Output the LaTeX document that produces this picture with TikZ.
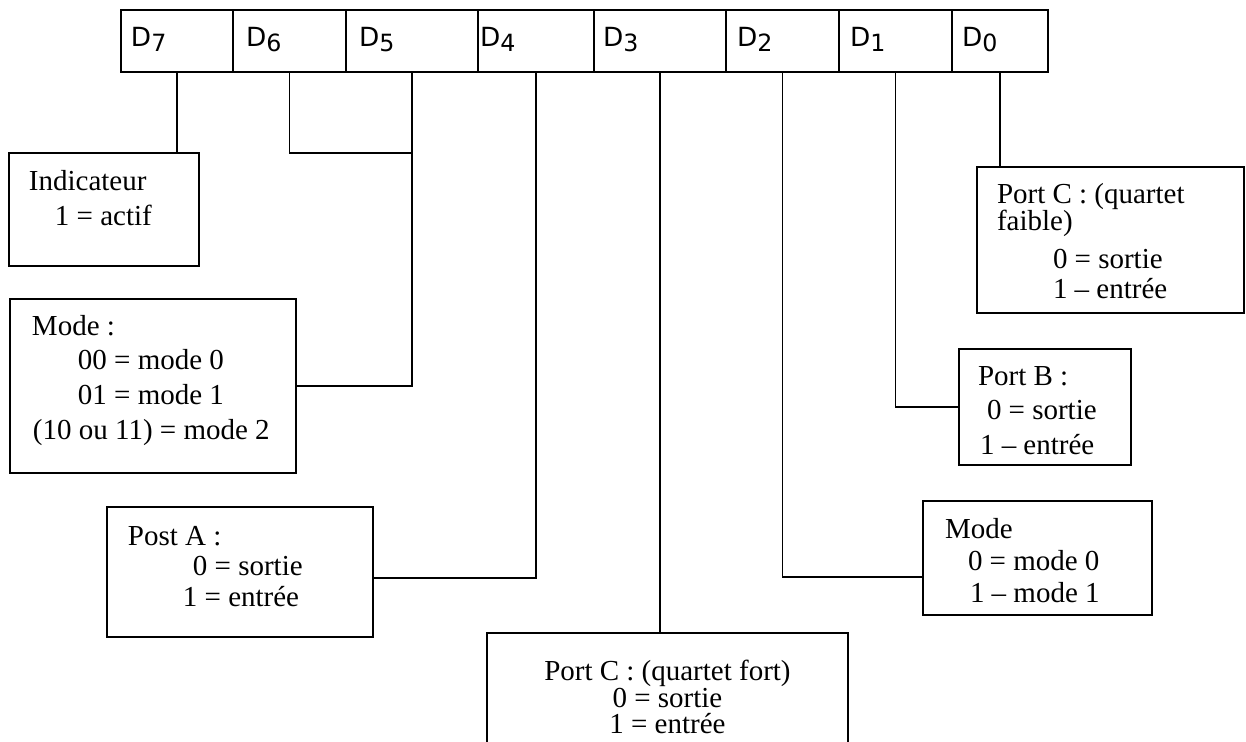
\documentclass[tikz,border=0pt]{standalone}
\usepackage{fontspec}
\setmainfont{Liberation Serif}
\newfontfamily\bitfont{DejaVu Sans}
\usepackage{tikz}
\usetikzlibrary{positioning}

% text of a box: width, height, line skip, lines
\newcommand{\boxtxt}[4]{\begin{minipage}[c][#2][t]{#1}\fontsize{16.5pt}{#3}\selectfont#4\end{minipage}}
% one bit of the control word: width, left pad, digit
\newcommand{\regcell}[3]{\begin{minipage}[c][1.24cm][t]{#1}\bitfont\fontsize{15pt}{18pt}\selectfont\rule{0pt}{0.74cm}\hspace*{#2}D\raisebox{-0.1cm}{\fontsize{13.5pt}{14pt}\selectfont#3}\end{minipage}}

\begin{document}
\begin{tikzpicture}[x=0.02cm, y=-0.02cm,
  bitbox/.style={draw, line width=1pt, inner sep=0pt, outer sep=0pt, anchor=north west},
  infobox/.style={draw, line width=1pt, inner sep=0pt, outer sep=0pt, anchor=north west},
  wire/.style={line width=1pt}
]
  \path[use as bounding box, clip] (0,0) rectangle (1246,741);
  \fill[white] (0,0) rectangle (1246,741);

  % control word
  \node[bitbox] (bit7) at (121,10) {\regcell{2.24cm}{0.2cm}{7}};
  \node[bitbox] (bit6) at (233,10) {\regcell{2.26cm}{0.26cm}{6}};
  \node[bitbox] (bit5) at (346,10) {\regcell{2.64cm}{0.26cm}{5}};
  \node[bitbox] (bit4) at (478,10) {\regcell{2.32cm}{0.04cm}{4}};
  \node[bitbox] (bit3) at (594,10) {\regcell{2.64cm}{0.18cm}{3}};
  \node[bitbox] (bit2) at (726,10) {\regcell{2.26cm}{0.22cm}{2}};
  \node[bitbox] (bit1) at (839,10) {\regcell{2.26cm}{0.22cm}{1}};
  \node[bitbox] (bit0) at (952,10) {\regcell{1.92cm}{0.2cm}{0}};

  % meaning of the bits
  \node[infobox] (indic) at (9,153) {\boxtxt{3.8cm}{2.26cm}{0.7cm}{%
    \rule{0pt}{0.76cm}\hspace*{0.4cm}Indicateur\\
    \hspace*{0.92cm}1 = actif}};
  \node[infobox] (modeg) at (10,299) {\boxtxt{5.72cm}{3.48cm}{0.7cm}{%
    \rule{0pt}{0.72cm}\hspace*{0.44cm}Mode :\\
    \hspace*{1.36cm}00 = mode 0\\
    \hspace*{1.36cm}01 = mode 1\\
    \hspace*{0.46cm}(10 ou 11) = mode 2}};
  \node[infobox] (porta) at (107,507) {\boxtxt{5.32cm}{2.6cm}{0.62cm}{%
    \rule{0pt}{0.76cm}\hspace*{0.42cm}Post A :\\
    \hspace*{1.72cm}0 = sortie\\
    \hspace*{1.52cm}1 = entrée}};
  \node[infobox] (portcf) at (487,633) {\boxtxt{7.22cm}{2.6cm}{0.54cm}{\centering
    \rule{0pt}{0.94cm}Port C : (quartet fort)\\
    0 = sortie\\
    1 = entrée\par}};
  \node[infobox] (portcl) at (977,167) {\boxtxt{5.34cm}{2.92cm}{0.6cm}{%
    \rule{0pt}{0.72cm}\hspace*{0.4cm}Port C : (quartet\\[-0.04cm]
    \hspace*{0.4cm}faible)\\[0.16cm]
    \hspace*{1.52cm}0 = sortie\\
    \hspace*{1.52cm}1 -- entrée}};
  \node[infobox] (portb) at (959,349) {\boxtxt{3.44cm}{2.32cm}{0.7cm}{%
    \rule{0pt}{0.72cm}\hspace*{0.38cm}Port B :\\
    \hspace*{0.56cm}0 = sortie\\
    \hspace*{0.42cm}1 -- entrée}};
  \node[infobox] (moded) at (923,501) {\boxtxt{4.58cm}{2.28cm}{0.65cm}{%
    \rule{0pt}{0.74cm}\hspace*{0.44cm}Mode\\
    \hspace*{0.9cm}0 = mode 0\\
    \hspace*{0.94cm}1 -- mode 1}};

  % links
  \coordinate (j65) at (bit5.south |- indic.north);
  \draw[wire] (bit7.south) -- (bit7.south |- indic.north);
  \draw[wire] (bit6.south) |- (j65);
  \draw[wire] (bit5.south) |- (modeg.east);
  \draw[wire] (bit4.south) |- ([yshift=-0.12cm]porta.east);
  \draw[wire] (bit3.south) -- (bit3.south |- portcf.north);
  \draw[wire] (bit2.south) |- ([yshift=-0.38cm]moded.west);
  \draw[wire] (bit1.south) |- (portb.west);
  \draw[wire] (bit0.south) -- (bit0.south |- portcl.north);
\end{tikzpicture}
\end{document}
